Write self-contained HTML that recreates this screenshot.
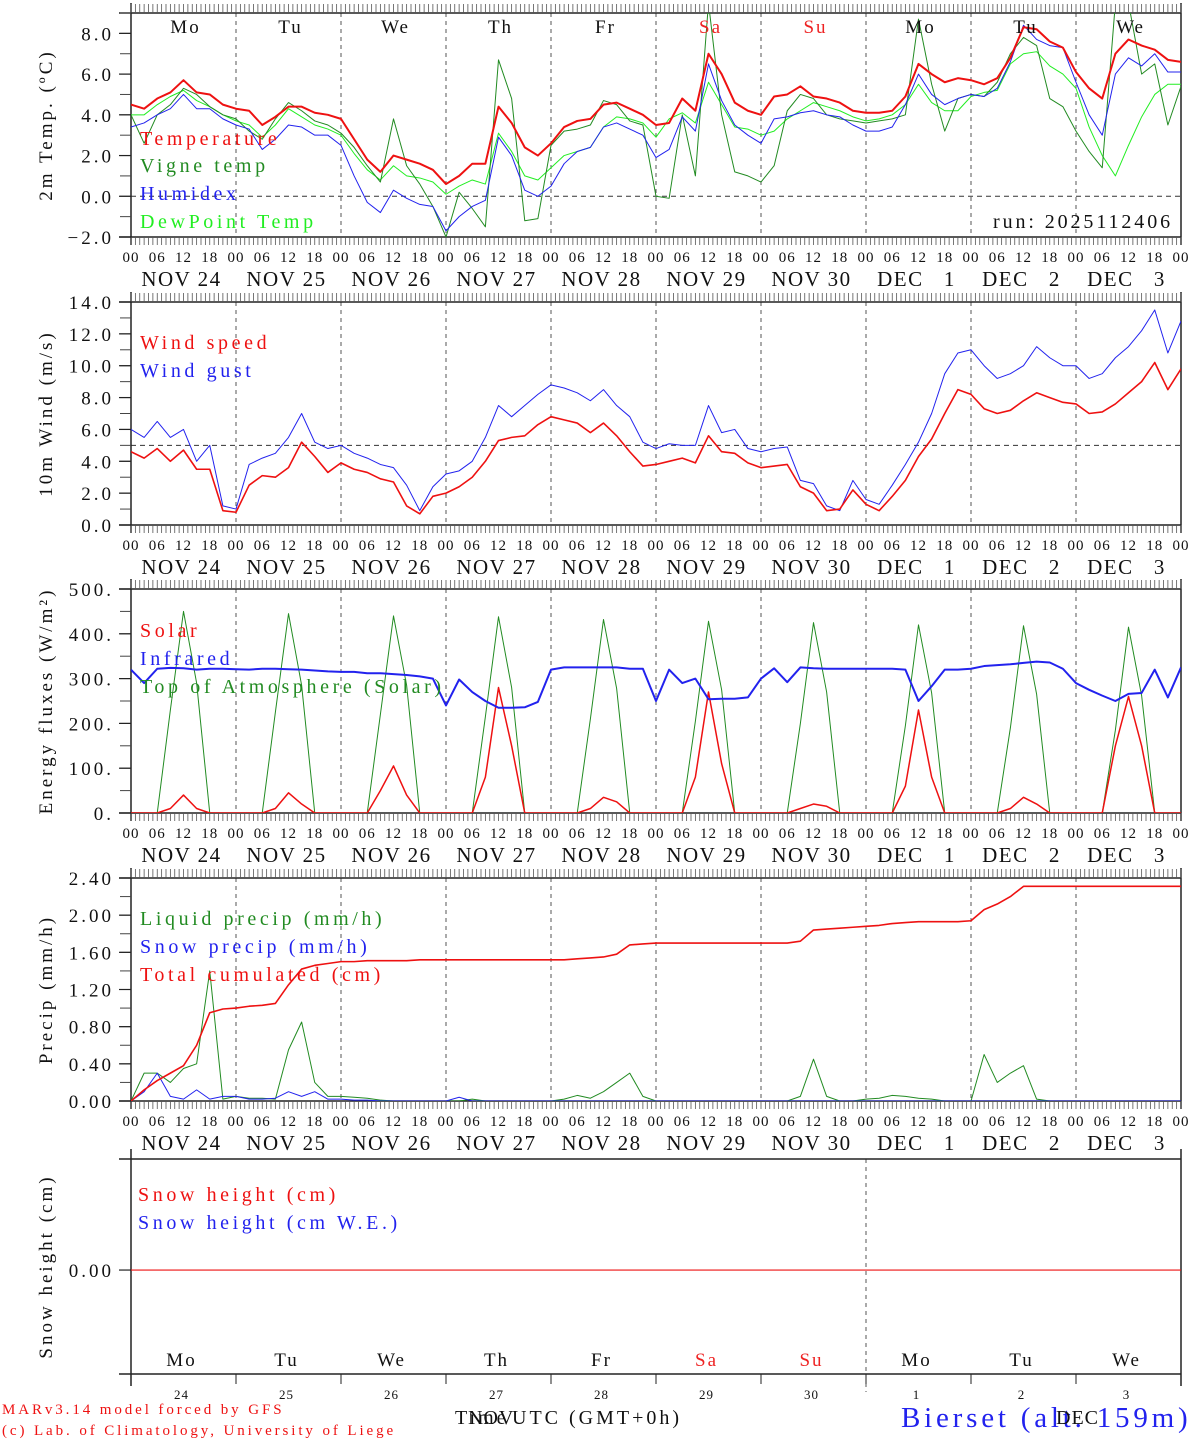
<!DOCTYPE html>
<html><head><meta charset="utf-8">
<style>
html,body{margin:0;padding:0;background:#fff;}
svg{display:block;font-family:"Liberation Serif",serif;}
</style></head>
<body>
<svg id="chart" width="1194" height="1440" viewBox="0 0 1194 1440" xmlns="http://www.w3.org/2000/svg"></svg>
<script>
// ---------- data (3-hourly, from Nov 24 00 UTC to Dec 4 00 UTC) ----------
const dayNames = ["Mo","Tu","We","Th","Fr","Sa","Su","Mo","Tu","We"];
const dayDates = ["NOV 24","NOV 25","NOV 26","NOV 27","NOV 28","NOV 29","NOV 30","DEC\u00a0\u00a0 1","DEC\u00a0\u00a0 2","DEC\u00a0\u00a0 3"];
const dayNums = ["24","25","26","27","28","29","30","1","2","3"];
const hourLabels = ["00","06","12","18"];

const tempTicks = [8,6,4,2,0,-2];
const windTicks = [14,12,10,8,6,4,2,0];
const energyTicks = [500,400,300,200,100,0];
const precipTicks = [2.4,2.0,1.6,1.2,0.8,0.4,0];
const snowTicks = [0];

const temperature = [4.5,4.3,4.8,5.1,5.7,5.1,5.0,4.5,
 4.3,4.2,3.5,3.9,4.4,4.4,4.1,4.0,
 3.8,2.8,1.8,1.2,2.0,1.8,1.6,1.3,
 0.6,1.0,1.6,1.6,4.4,3.6,2.4,2.0,
 2.6,3.4,3.7,3.8,4.5,4.6,4.3,4.0,
 3.5,3.6,4.8,4.2,7.0,6.0,4.6,4.2,
 4.0,4.9,5.0,5.4,4.9,4.8,4.6,4.2,
 4.1,4.1,4.2,4.9,6.5,6.0,5.6,5.8,
 5.7,5.5,5.8,6.8,8.3,8.2,7.6,7.3,
 6.1,5.3,4.8,7.0,7.7,7.4,7.2,6.7,6.6];
const vigneTemp = [4.0,2.6,4.0,4.5,5.3,5.0,4.4,4.0,
 3.8,3.2,2.8,3.8,4.6,4.2,3.7,3.5,
 3.1,2.4,1.5,0.7,3.8,1.5,0.6,-0.5,
 -2.0,0.2,-0.6,-1.5,6.7,4.8,-1.2,-1.1,
 2.5,3.2,3.3,3.5,4.7,4.5,3.7,3.5,
 0.0,-0.1,4.0,1.0,9.5,4.0,1.2,1.0,
 0.7,1.5,4.2,5.0,4.8,4.0,3.8,3.7,
 3.6,3.7,3.8,4.0,8.7,5.5,3.2,4.8,
 5.0,4.9,5.6,7.0,7.8,7.4,4.8,4.4,
 3.2,2.2,1.4,9.5,9.5,6.0,6.5,3.5,5.4];
const humidex = [3.4,3.6,4.0,4.3,5.0,4.3,4.3,3.8,
 3.5,3.3,2.3,2.8,3.5,3.4,3.0,3.0,
 2.5,1.0,-0.3,-0.8,0.3,-0.1,-0.4,-0.5,
 -1.7,-1.0,-0.5,-0.2,2.9,2.0,0.3,0.0,
 0.5,1.6,2.2,2.4,3.4,3.6,3.3,3.0,
 1.9,2.3,3.9,3.2,6.5,4.7,3.5,3.0,
 2.6,3.8,3.9,4.1,4.2,4.0,3.9,3.5,
 3.2,3.2,3.4,4.5,6.0,5.0,4.5,4.8,
 5.0,4.9,5.3,6.6,8.4,7.7,7.4,7.3,
 5.6,4.0,3.0,6.0,6.8,6.4,7.0,6.1,6.1];
const dewPoint = [4.0,4.0,4.5,4.9,5.2,4.7,4.4,4.0,
 3.7,3.5,2.9,3.5,4.3,3.9,3.5,3.3,
 3.0,2.1,1.3,0.8,1.5,1.0,0.9,0.7,
 0.1,0.5,0.8,0.6,3.1,2.2,1.0,0.8,
 1.4,2.0,2.2,2.4,3.4,3.9,3.8,3.6,
 2.9,3.8,4.1,3.6,5.6,4.5,3.4,3.3,
 3.0,3.2,3.8,4.2,4.6,4.4,4.2,3.9,
 3.7,3.8,4.0,4.5,5.5,4.6,4.2,4.2,
 4.9,5.1,5.2,6.5,7.0,7.1,6.4,6.0,
 5.3,3.4,2.0,1.0,2.5,3.9,5.0,5.5,5.5];

const windSpeed = [4.6,4.2,4.8,4.0,4.7,3.5,3.5,0.9,
 0.8,2.5,3.1,3.0,3.6,5.2,4.3,3.3,
 3.9,3.5,3.3,2.9,2.7,1.2,0.7,1.8,
 2.0,2.4,3.0,4.0,5.3,5.5,5.6,6.3,
 6.8,6.6,6.4,5.8,6.4,5.6,4.6,3.7,
 3.8,4.0,4.2,3.9,5.6,4.6,4.5,3.9,
 3.6,3.7,3.8,2.4,2.0,0.9,1.0,2.2,
 1.3,0.9,1.8,2.8,4.3,5.4,7.0,8.5,
 8.2,7.3,7.0,7.2,7.8,8.3,8.0,7.7,
 7.6,7.0,7.1,7.6,8.3,9.0,10.2,8.5,9.8];
const windGust = [6.0,5.5,6.5,5.5,6.0,4.0,5.0,1.2,
 1.0,3.8,4.2,4.5,5.5,7.0,5.2,4.8,
 5.0,4.5,4.2,3.8,3.6,2.5,0.9,2.4,
 3.2,3.4,4.0,5.5,7.5,6.8,7.5,8.2,
 8.8,8.6,8.3,7.8,8.5,7.5,6.8,5.2,
 4.8,5.1,5.0,5.0,7.5,5.8,6.0,4.8,
 4.6,4.8,4.9,2.8,2.6,1.2,0.9,2.8,
 1.6,1.3,2.5,3.8,5.2,7.0,9.5,10.8,
 11.0,10.0,9.2,9.5,10.0,11.2,10.5,10.0,
 10.0,9.2,9.5,10.5,11.2,12.2,13.5,10.8,12.8];

const solar = [0,0,0,10,40,10,0,0,
 0,0,0,10,45,20,0,0,
 0,0,0,50,105,40,0,0,
 0,0,0,80,280,150,0,0,
 0,0,0,10,35,25,0,0,
 0,0,0,80,270,110,0,0,
 0,0,0,10,20,15,0,0,
 0,0,0,60,230,80,0,0,
 0,0,0,10,35,20,0,0,
 0,0,0,150,260,150,0,0,0];
const infrared = [320,290,322,324,323,320,322,322,
 321,320,322,322,321,320,318,316,
 315,315,312,312,310,308,305,300,
 240,298,270,250,235,235,236,248,
 320,325,325,325,325,325,322,322,
 250,320,290,300,254,255,255,258,
 300,323,292,325,323,322,322,322,
 322,322,322,320,250,283,320,320,
 322,328,330,332,335,338,336,322,
 290,275,262,250,266,268,320,258,325];
const topOfAtmosphere = [0,0,0,230,450,290,0,0,
 0,0,0,225,445,285,0,0,
 0,0,0,220,440,285,0,0,
 0,0,0,215,438,280,0,0,
 0,0,0,210,432,278,0,0,
 0,0,0,205,428,275,0,0,
 0,0,0,200,425,270,0,0,
 0,0,0,195,420,268,0,0,
 0,0,0,190,418,265,0,0,
 0,0,0,185,415,262,0,0,0];

const liquidPrecip = [0,0.3,0.3,0.2,0.35,0.4,1.4,0.02,
 0.05,0.03,0.03,0.02,0.55,0.85,0.2,0.05,
 0.05,0.04,0.03,0.01,0,0,0,0,
 0,0,0.02,0,0,0,0,0,
 0,0.02,0.06,0.03,0.1,0.2,0.3,0.05,
 0,0,0,0,0,0,0,0,
 0,0,0,0.05,0.45,0.05,0,0,
 0.02,0.03,0.06,0.05,0.03,0.02,0,0,
 0,0.5,0.2,0.3,0.38,0.02,0,0,
 0,0,0,0,0,0,0,0,0];
const snowPrecip = [0,0.1,0.3,0.05,0.02,0.12,0.02,0.05,
 0.05,0.02,0.02,0.03,0.1,0.05,0.1,0.02,
 0.02,0.01,0.01,0,0,0,0,0,
 0,0.04,0,0,0,0,0,0,
 0,0,0,0,0,0,0,0,
 0,0,0,0,0,0,0,0,
 0,0,0,0,0,0,0,0,
 0,0,0,0,0,0,0,0,
 0,0,0,0,0,0,0,0,
 0,0,0,0,0,0,0,0,0];
const totalCumulated = [0,0.12,0.22,0.30,0.38,0.60,0.95,0.99,
 1.00,1.02,1.03,1.05,1.25,1.42,1.46,1.48,
 1.50,1.50,1.51,1.51,1.51,1.51,1.52,1.52,
 1.52,1.52,1.52,1.52,1.52,1.52,1.52,1.52,
 1.52,1.52,1.53,1.54,1.55,1.58,1.68,1.69,
 1.70,1.70,1.70,1.70,1.70,1.70,1.70,1.70,
 1.70,1.70,1.70,1.72,1.84,1.85,1.86,1.87,
 1.88,1.89,1.91,1.92,1.93,1.93,1.93,1.93,
 1.94,2.06,2.12,2.20,2.31,2.31,2.31,2.31,
 2.31,2.31,2.31,2.31,2.31,2.31,2.31,2.31,2.31];
const snowHeight = new Array(81).fill(0);
const snowHeightWE = new Array(81).fill(0);

// ---------- layout ----------
const NS = "http://www.w3.org/2000/svg";
const svg = document.getElementById("chart");
const X0 = 131, X1 = 1181, STEP_H = 3;
const PX_PER_H = (X1 - X0) / 240;
function xScale(i){ return X0 + i * STEP_H * PX_PER_H; }
function makeY(p){ return v => p.bottom - (v - p.vmin) / (p.vmax - p.vmin) * (p.bottom - p.top); }

function el(tag, attrs, parent){
  const e = document.createElementNS(NS, tag);
  for (const k in attrs) e.setAttribute(k, attrs[k]);
  (parent || svg).appendChild(e);
  return e;
}
function txt(s, x, y, size, color, anchor, parent, ls){
  const t = el("text", {x:x, y:y, "font-size":size, fill:color||"#000", "text-anchor":anchor||"start"}, parent);
  if (ls) t.setAttribute("letter-spacing", ls);
  t.textContent = s;
  return t;
}

const panels = [
  {id:"temp", top:13, bottom:237, vmin:-2, vmax:9.0, ticks:tempTicks, fmt:v=>(v<0?"\u22122.0":v.toFixed(1)), minor:1, title:"2m Temp. (\u00baC)", ref:0},
  {id:"wind", top:302, bottom:525, vmin:0, vmax:14, ticks:windTicks, fmt:v=>v.toFixed(1), minor:1, title:"10m Wind (m/s)", ref:5},
  {id:"energy", top:589, bottom:813, vmin:0, vmax:500, ticks:energyTicks, fmt:v=>v+".", minor:50, title:"Energy fluxes (W/m\u00b2)", ref:null},
  {id:"precip", top:878, bottom:1101, vmin:0, vmax:2.4, ticks:precipTicks, fmt:v=>v.toFixed(2), minor:0.2, title:"Precip (mm/h)", ref:null},
  {id:"snow", top:1159, bottom:1374, vmin:-0.967, vmax:1.033, ticks:snowTicks, fmt:v=>v.toFixed(2), minor:null, title:"Snow height (cm)", ref:null}
];

const defs = el("defs", {});
panels.forEach((p) => {
  const cp = el("clipPath", {id:"clip-"+p.id}, defs);
  el("rect", {x:X0, y:p.top, width:X1-X0, height:p.bottom-p.top}, cp);
});

function drawFrame(p){
  const g = el("g", {});
  
  
  const y = makeY(p);
  for (let d = 1; d < 10; d++){
    const x = X0 + d*24*PX_PER_H;
    if (p.id === "snow" && d !== 7) continue;
    const ln = el("line", {x1:x, x2:x, y1:p.top, y2:(p.id==="snow"?1392:p.bottom), stroke:"#555", "stroke-width":1, "stroke-dasharray":"4,4"}, g);
    
    
  }
  if (p.ref !== null){
    const r = el("line", {x1:X0, x2:X1, y1:y(p.ref), y2:y(p.ref), stroke:"#333", "stroke-width":1, "stroke-dasharray":"5,4"}, g);
    
    
  }
  el("line", {x1:119, x2:X1, y1:p.top, y2:p.top, stroke:"#222", "stroke-width":1.5}, g);
  el("line", {x1:119, x2:X1, y1:p.bottom, y2:p.bottom, stroke:"#222", "stroke-width":1.5}, g);
  el("line", {x1:X0, x2:X0, y1:p.top-10, y2:p.bottom+(p.id==="snow"?12:8), stroke:"#222", "stroke-width":1.5}, g);
  el("line", {x1:X1, x2:X1, y1:p.top-10, y2:p.bottom+(p.id==="snow"?12:8), stroke:"#222", "stroke-width":1.5}, g);
  if (p.id !== "snow"){
    let dstr = "";
    for (let h = 0; h <= 240; h++){
      const x = X0 + h*PX_PER_H;
      dstr += `M${x.toFixed(2)} ${p.top-9}V${p.top}M${x.toFixed(2)} ${p.bottom}V${p.bottom+8}`;
    }
    el("path", {d:dstr, stroke:"#555", "stroke-width":0.8, fill:"none"}, g);
  } else {
    for (let d = 0; d <= 10; d++){
      const x = X0 + d*24*PX_PER_H;
      el("line", {x1:x, x2:x, y1:p.bottom, y2:p.bottom+10, stroke:"#222", "stroke-width":1}, g);
    }
  }
  if (p.minor){
    for (let v = p.vmin; v <= p.vmax + 1e-9; v += p.minor){
      el("line", {x1:120, x2:X0, y1:y(v), y2:y(v), stroke:"#444", "stroke-width":1}, g);
    }
  }
  p.ticks.forEach(v => {
    el("line", {x1:119, x2:X0, y1:y(v), y2:y(v), stroke:"#222", "stroke-width":1.2}, g);
    const t = txt(p.fmt(v), 114, y(v)+7, 19, "#111", "end", g, "3");
    
    
  });
  const cy = (p.top + p.bottom)/2;
  const tt = el("text", {x:0, y:0, "font-size":19, fill:"#111", "text-anchor":"middle", transform:`translate(52 ${cy}) rotate(-90)`, "letter-spacing":"3"}, g);
  tt.textContent = p.title;
  
  
  if (p.id !== "snow"){
    for (let d = 0; d < 10; d++){
      hourLabels.forEach((hl, k) => {
        const x = X0 + (d*24 + k*6)*PX_PER_H;
        const t = txt(hl, x, p.bottom+25, 15, "#111", "middle", g, "1");
        
        
      });
      const dt = txt(dayDates[d], X0 + (d*24+12)*PX_PER_H - 2, p.bottom+49, 21, "#111", "middle", g, "1.5");
      
      
    }
    const last = txt("00", X1, p.bottom+25, 15, "#111", "middle", g, "1");
    
    
  }
}

function drawSeries(p, data, color, width, name){
  const y = makeY(p);
  const pts = data.map((v, i) => xScale(i).toFixed(2) + "," + y(v).toFixed(2)).join(" ");
  const pl = el("polyline", {points:pts, fill:"none", stroke:color, "stroke-width":width, "stroke-linejoin":"round", "clip-path":"url(#clip-"+p.id+")"});
  
  
}

function legend(label, x, y, color){
  const t = txt(label, x, y, 20, color, "start", null, "3.6");
  
  
}

panels.forEach(drawFrame);

const P = {}; panels.forEach(p => P[p.id] = p);

drawSeries(P.temp, dewPoint, "#22ee22", 1, "dewpoint-line");
drawSeries(P.temp, vigneTemp, "#228B22", 1, "vigne-temp-line");
drawSeries(P.temp, humidex, "#2222ee", 1, "humidex-line");
drawSeries(P.temp, temperature, "#ee1111", 2, "temperature-line");
legend("Temperature", 140, 145, "#ee1111");
legend("Vigne temp", 140, 172, "#228B22");
legend("Humidex", 140, 200, "#2222ee");
legend("DewPoint Temp", 140, 228, "#22ee22");
const run = txt("run: 2025112406", 1173, 228, 20, "#111", "end", null, "2.9");


for (let d = 0; d < 10; d++){
  const c = (d===5||d===6) ? "#ee2222" : "#111";
  const t = txt(dayNames[d], X0 + (d*24+12)*PX_PER_H + 2, 33, 19, c, "middle", null, "2");
  
  
}

drawSeries(P.wind, windGust, "#2222ee", 1, "wind-gust-line");
drawSeries(P.wind, windSpeed, "#ee1111", 1.6, "wind-speed-line");
legend("Wind speed", 140, 349, "#ee1111");
legend("Wind gust", 140, 377, "#2222ee");

drawSeries(P.energy, topOfAtmosphere, "#228B22", 1, "toa-solar-line");
drawSeries(P.energy, solar, "#ee1111", 1.5, "solar-line");
drawSeries(P.energy, infrared, "#2222ee", 2, "infrared-line");
legend("Solar", 140, 637, "#ee1111");
legend("Infrared", 140, 665, "#2222ee");
legend("Top of Atmosphere (Solar)", 140, 693, "#228B22");

drawSeries(P.precip, liquidPrecip, "#228B22", 1, "liquid-precip-line");
drawSeries(P.precip, snowPrecip, "#2222ee", 1, "snow-precip-line");
drawSeries(P.precip, totalCumulated, "#ee1111", 1.6, "total-cumulated-line");
legend("Liquid precip (mm/h)", 140, 925, "#228B22");
legend("Snow precip (mm/h)", 140, 953, "#2222ee");
legend("Total cumulated (cm)", 140, 981, "#ee1111");

drawSeries(P.snow, snowHeightWE, "#2222ee", 1, "snow-height-we-line");
drawSeries(P.snow, snowHeight, "#ee1111", 1.2, "snow-height-line");
legend("Snow height (cm)", 138, 1201, "#ee1111");
legend("Snow height (cm W.E.)", 138, 1229, "#2222ee");
for (let d = 0; d < 10; d++){
  const cx = X0 + (d*24+12)*PX_PER_H - 2;
  const c = (d===5||d===6) ? "#ee2222" : "#111";
  const t = txt(dayNames[d], cx, 1366, 19, c, "middle", null, "2");
  
  
  const n = txt(dayNums[d], cx, 1399, 13, "#111", "middle", null, "1");
  
  
}

const f1 = txt("MARv3.14 model forced by GFS", 2, 1414, 15, "#ee1111", "start", null, "2.9");


const f2 = txt("(c) Lab. of Climatology, University of Liege", 2, 1435, 15, "#ee1111", "start", null, "2.9");


const xt1 = txt("Time", 455, 1424, 20, "#111", "start", null, "3");


const xt2 = txt("NOV", 468, 1424, 20, "#111", "start", null, "1");


const xt3 = txt("UTC (GMT+0h)", 512, 1424, 20, "#111", "start", null, "3");


const st = txt("Bierset (alt. 159m)", 901, 1427, 29, "#2222ee", "start", null, "3.8");


const xt4 = txt("DEC", 1056, 1424, 20, "#111", "start", null, "1");


</script>
</body></html>
